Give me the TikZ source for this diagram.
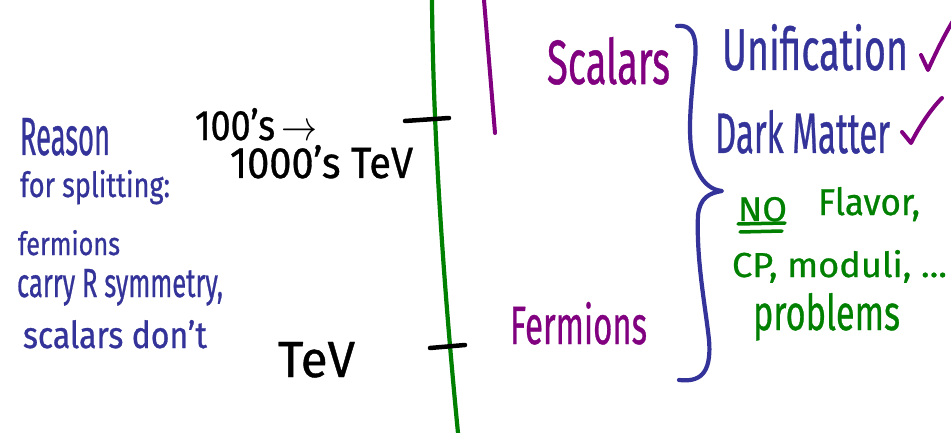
\documentclass[tikz,border=0pt]{standalone}
\usepackage{fontspec}
\setmainfont{Fira Sans}[FakeBold=0.8]
\usepackage{graphicx}
\definecolor{inkgreen}{RGB}{0,128,0}
\definecolor{inkpurple}{RGB}{128,0,128}
\definecolor{inkblue}{RGB}{51,51,153}
% scale a piece of text to a given width and height (in pt)
\newcommand\inkfit[3]{\resizebox{#1pt}{#2pt}{#3}}

\begin{document}
\begin{tikzpicture}[x=1pt,y=-1pt,
  pen/.style={line cap=round,line join=round},
  axisline/.style={pen,draw=inkgreen,line width=4.2pt},
  tickline/.style={pen,draw=black,line width=4.5pt},
  rangeline/.style={pen,draw=inkpurple,line width=4pt},
  braceline/.style={pen,draw=inkblue,line width=4.2pt},
  checkline/.style={pen,draw=inkpurple,line width=4pt},
  underline/.style={pen,draw=inkgreen,line width=3.5pt},
  lbl/.style={anchor=base west,inner sep=0pt,outer sep=0pt},
  bluetext/.style={lbl,text=inkblue},
  purpletext/.style={lbl,text=inkpurple},
  greentext/.style={lbl,text=inkgreen},
  blacktext/.style={lbl,text=black}]
\useasboundingbox[fill=white] (0,0) rectangle (951,433);

% energy axis
\coordinate (gtop) at (432,0);
\coordinate (gbot) at (458,433);
\draw[axisline] (gtop) .. controls (433,140) and (445,300) .. (gbot);

% tick marks on the axis
\coordinate (tickhiL) at (405,121);
\coordinate (tickhiR) at (449,118);
\coordinate (tickloL) at (430,348);
\coordinate (tickloR) at (465,345);
\draw[tickline] (tickhiL) -- (tickhiR);
\draw[tickline] (tickloL) -- (tickloR);

% scalar mass range
\coordinate (rtop) at (484,0);
\coordinate (rbot) at (495,133);
\draw[rangeline] (rtop) -- (rbot);

% scale labels
\node[blacktext] (hundreds) at (195,140) {\inkfit{122}{32}{100's\,$\to$}};
\node[blacktext] (thousands) at (230,178) {\inkfit{183}{33}{1000's TeV}};
\node[blacktext] (tev) at (278,377) {\inkfit{77}{35}{TeV}};

% sector labels
\node[purpletext] (scalars) at (547,84) {\inkfit{123}{47}{Scalars}};
\node[purpletext] (fermions) at (510,344) {\inkfit{137}{42}{Fermions}};

% explanation on the left
\node[bluetext] (reason) at (20,155) {\inkfit{90}{37}{Reason}};
\node[bluetext] (splitting) at (20,197) {\inkfit{150}{27}{for splitting:}};
\node[bluetext] (fermionsL) at (18,255) {\inkfit{102}{25}{fermions}};
\node[bluetext] (carry) at (17,297) {\inkfit{206}{28}{carry R symmetry,}};
\node[bluetext] (scalarsL) at (23,348) {\inkfit{184}{28}{scalars don't}};

% brace
\coordinate (btop) at (677,26);
\coordinate (btip) at (722,191);
\coordinate (bbot) at (679,380);
\draw[braceline] (btop) .. controls (695,24) and (698,40) .. (694,70)
  .. controls (690,110) and (686,150) .. (698,172)
  .. controls (704,184) and (712,190) .. (btip)
  .. controls (709,193) and (700,198) .. (698,215)
  .. controls (696,260) and (706,310) .. (709,340)
  .. controls (712,376) and (698,382) .. (bbot);

% consequences
\node[bluetext] (unif) at (722,70) {\inkfit{186}{46}{Unification}};
\node[bluetext] (dm) at (715,153) {\inkfit{175}{43}{Dark Matter}};
\draw[checkline] (921,55) .. controls (924,62) .. (928,70) .. controls (937,50) and (946,32) .. (956,16);
\draw[checkline] (902,132) .. controls (906,137) .. (911,143) .. controls (920,125) and (932,108) .. (942,98);

\node[greentext] (no) at (738,221) {\inkfit{49}{24}{NO}};
\coordinate (ul1a) at (738,224); \coordinate (ul1b) at (785,223);
\coordinate (ul2a) at (740,232); \coordinate (ul2b) at (782,231);
\draw[underline] (ul1a) -- (ul1b);
\draw[underline] (ul2a) -- (ul2b);
\node[greentext] (flavor) at (818,215) {\inkfit{102}{28}{Flavor,}};
\node[greentext] (cp) at (732,277) {\inkfit{215}{27}{CP, moduli, ...}};
\node[greentext] (problems) at (753,330) {\inkfit{147}{37}{problems}};
\end{tikzpicture}
\end{document}
